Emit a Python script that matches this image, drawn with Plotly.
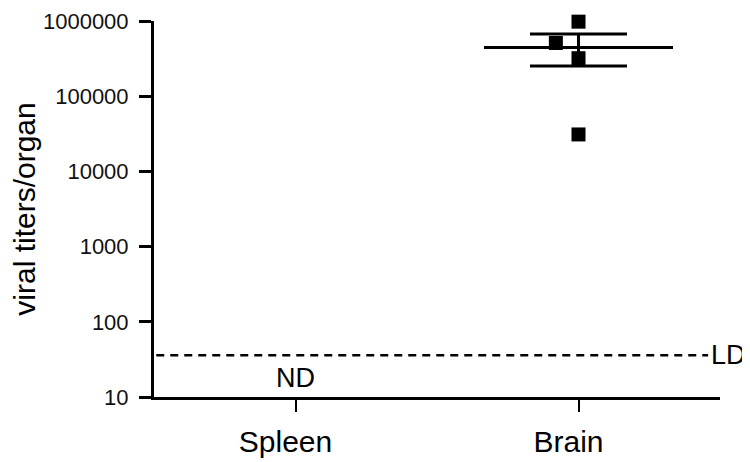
import math
import plotly.graph_objects as go

# ---- data ----
categories = ["Spleen", "Brain"]
brain_titers = [980000, 510000, 320000, 31000]
brain_jitter = [0.0, -0.08, 0.0, 0.0]
brain_mean = 445000
brain_err_plus = 225000
brain_err_minus = 192000
detection_limit = 36
y_tickvals = [10, 100, 1000, 10000, 100000, 1000000]
y_ticktext = ["10", "100", "1000", "10000", "100000", "1000000"]

FONT = "Liberation Sans, Arial, sans-serif"
brain_x = categories.index("Brain")
spleen_x = categories.index("Spleen")

fig = go.Figure()

# individual points
fig.add_trace(go.Scatter(
    x=[brain_x + j for j in brain_jitter], y=brain_titers,
    mode="markers",
    marker=dict(symbol="square", size=14, color="black"),
    cliponaxis=False, showlegend=False, hoverinfo="y",
))

# mean line
mean_half = 0.334
fig.add_trace(go.Scatter(
    x=[brain_x - mean_half, brain_x + mean_half], y=[brain_mean, brain_mean],
    mode="lines", line=dict(color="black", width=3),
    showlegend=False, hoverinfo="skip",
))

# error bar
fig.add_trace(go.Scatter(
    x=[brain_x], y=[brain_mean], mode="markers",
    marker=dict(size=1, color="rgba(0,0,0,0)"),
    error_y=dict(type="data", symmetric=False,
                 array=[brain_err_plus], arrayminus=[brain_err_minus],
                 color="black", thickness=3, width=48.5),
    showlegend=False, hoverinfo="skip",
))

# detection limit line
fig.add_shape(type="line", xref="paper", yref="y",
              x0=0.004, x1=0.979, y0=detection_limit, y1=detection_limit,
              line=dict(color="black", width=2.5, dash="8px,6px"))

fig.add_annotation(text="LD", xref="paper", yref="y", x=0.98,
                   y=math.log10(detection_limit),
                   xanchor="left", yanchor="middle", showarrow=False,
                   font=dict(family=FONT, size=27, color="black"))
fig.add_annotation(text="ND", xref="x", yref="y", x=spleen_x, y=1.25,
                   xanchor="center", yanchor="middle", showarrow=False,
                   font=dict(family=FONT, size=27, color="black"))

# page body has an 8px margin: figure is sized so the plot area lands
# at the same pixel positions as the reference
fig.update_layout(
    width=742, height=454,
    margin=dict(l=146, r=30, t=13, b=65, autoexpand=False),
    paper_bgcolor="white", plot_bgcolor="white",
    font=dict(family=FONT, color="black"),
    showlegend=False,
    xaxis=dict(
        range=[-0.5, 1.5], tickvals=[spleen_x, brain_x], ticktext=categories,
        showline=True, linewidth=2.5, linecolor="black",
        ticks="outside", ticklen=12, tickwidth=2, tickcolor="black",
        showgrid=False, zeroline=False, automargin=False,
        tickfont=dict(family=FONT, size=30, color="black"),
        ticklabelstandoff=4, ticklabelshift=-10,
    ),
    yaxis=dict(
        type="log", range=[1, 6], tickvals=y_tickvals, ticktext=y_ticktext,
        showline=True, linewidth=3, linecolor="black",
        ticks="outside", ticklen=12, tickwidth=2.5, tickcolor="black",
        showgrid=False, zeroline=False, automargin=False,
        tickfont=dict(family=FONT, size=22, color="#111111"),
        ticklabelstandoff=6,
        title=dict(text="viral titers/organ", standoff=4,
                   font=dict(family=FONT, size=30, color="black")),
    ),
)

fig.write_html("out.html")
